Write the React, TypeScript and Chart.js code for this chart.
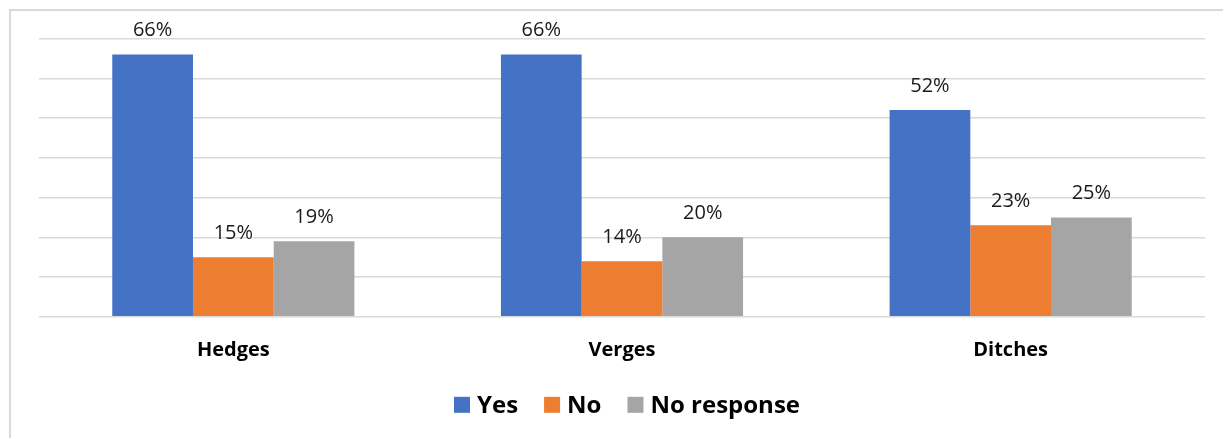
import React, { useEffect, useRef } from "react";
import { Chart, registerables } from "chart.js";

Chart.register(...registerables);

const categories = ["Hedges", "Verges", "Ditches"];
const seriesNames = ["Yes", "No", "No response"];
const yesValues = [66, 66, 52];
const noValues = [15, 14, 23];
const noResponseValues = [19, 20, 25];
const seriesColors = ["#4472C4", "#ED7D31", "#A5A5A5"];
const yMax = 70;
const yStep = 10;

const FONT = "'Open Sans', 'Liberation Sans', sans-serif";

const dataLabelPlugin = {
  id: "dataLabels",
  afterDatasetsDraw(chart: any) {
    const ctx = chart.ctx;
    ctx.save();
    ctx.font = `20px ${FONT}`;
    ctx.fillStyle = "#1a1a1a";
    ctx.textAlign = "center";
    ctx.textBaseline = "alphabetic";
    chart.data.datasets.forEach((ds: any, i: number) => {
      const meta = chart.getDatasetMeta(i);
      meta.data.forEach((el: any, j: number) => {
        ctx.fillText(`${ds.data[j]}%`, el.x, el.y - 18);
      });
    });
    ctx.restore();
  },
};

const legendPlugin = {
  id: "customLegend",
  afterDraw(chart: any) {
    const ctx = chart.ctx;
    const area = chart.chartArea;
    ctx.save();
    ctx.font = `bold 24px ${FONT}`;
    const box = 16;
    const gapText = 7;
    const gapItem = 26;
    const items = chart.data.datasets.map((ds: any) => ({
      label: ds.label,
      color: ds.backgroundColor,
      w: ctx.measureText(ds.label).width,
    }));
    const total =
      items.reduce((s: number, it: any) => s + box + gapText + it.w, 0) +
      gapItem * (items.length - 1);
    let x = (area.left + area.right) / 2 + 5 - total / 2;
    const cy = area.bottom + 88;
    ctx.textBaseline = "alphabetic";
    ctx.textAlign = "left";
    items.forEach((it: any) => {
      ctx.fillStyle = it.color;
      ctx.fillRect(x, cy - box / 2, box, box);
      x += box + gapText;
      ctx.fillStyle = "#000";
      ctx.fillText(it.label, x, cy + box / 2);
      x += it.w + gapItem;
    });
    ctx.restore();
  },
};

export default function App() {
  const ref = useRef<HTMLCanvasElement>(null);
  useEffect(() => {
    if (!ref.current) return;
    const values = [yesValues, noValues, noResponseValues];
    const chart = new Chart(ref.current, {
      type: "bar",
      data: {
        labels: categories,
        datasets: seriesNames.map((name, i) => ({
          label: name,
          data: values[i],
          backgroundColor: seriesColors[i],
          borderWidth: 0,
          categoryPercentage: 0.623,
          barPercentage: 1,
        })),
      },
      options: {
        animation: false,
        responsive: true,
        maintainAspectRatio: false,
        layout: { padding: { left: 28, right: 26, top: 27.5, bottom: 64.2 } },
        plugins: {
          legend: { display: false },
          tooltip: { enabled: false },
        },
        scales: {
          x: {
            grid: { display: false },
            border: { display: false },
            ticks: {
              padding: 13,
              color: "#000",
              font: { family: FONT, size: 20, weight: "bold" },
            },
          },
          y: {
            min: 0,
            max: yMax,
            ticks: { display: false, stepSize: yStep },
            grid: { color: "#d9d9d9", lineWidth: 1.5, drawTicks: false },
            border: { display: false },
          },
        },
      },
      plugins: [dataLabelPlugin, legendPlugin],
    });
    return () => chart.destroy();
  }, []);

  return (
    <div
      style={{
        position: "relative",
        left: 1,
        top: 1,
        width: 1220,
        height: 428,
        borderTop: "2px solid #d9d9d9",
        borderLeft: "2px solid #d9d9d9",
        background: "#fff",
      }}
    >
      <canvas ref={ref} />
    </div>
  );
}
